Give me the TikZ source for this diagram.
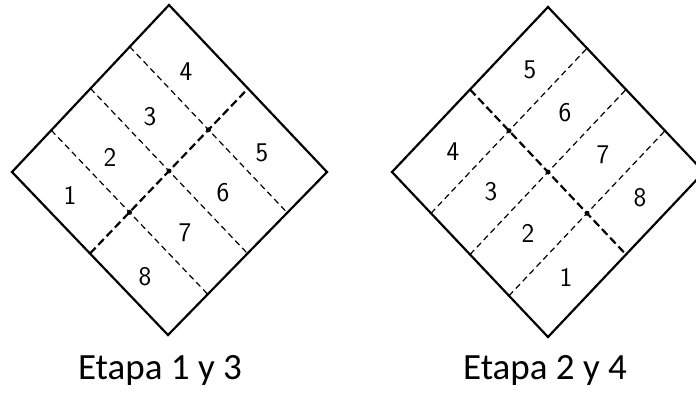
\documentclass[tikz,border=0pt]{standalone}
\usepackage{fontspec}
\newfontfamily\capfont{Carlito}
\usetikzlibrary{calc}
\begin{document}
\begin{tikzpicture}[x=1pt,y=-1pt,
  outline/.style={line width=2.2pt, line join=miter},
  thindash/.style={line width=1.2pt, dash pattern=on 6pt off 4pt},
  thickdash/.style={line width=2.2pt, dash pattern=on 8pt off 4pt},
  num/.style={font=\sffamily\fontsize{27}{27}\selectfont, inner sep=0pt},
  caption/.style={font=\capfont\fontsize{37}{40}\selectfont, anchor=base, inner sep=0pt},
  xdot/.style={circle, fill, inner sep=0pt, minimum size=5pt}]
\useasboundingbox (0,0) rectangle (696,392);
\clip (0,0) rectangle (696,392);
% ---------- left diamond ----------
\coordinate (aL) at (12,172);
\coordinate (aT) at (169,5);
\coordinate (aR) at (327,172);
\coordinate (aB) at (168,335);
\foreach \f/\k in {0.25/1,0.5/2,0.75/3}{
  \coordinate (aP\k) at ($(aL)!\f!(aT)$);
  \coordinate (aQ\k) at ($(aB)!\f!(aR)$);
  \draw[thindash] (aP\k) -- (aQ\k);
}
\coordinate (aM1) at ($(aL)!0.5!(aB)$);
\coordinate (aM2) at ($(aT)!0.5!(aR)$);
\draw[thickdash] (aM1) -- (aM2);
\foreach \k in {1,2,3}{
  \node[xdot] (aX\k) at ($(aP\k)!0.5!(aQ\k)$) {};
}
\draw[outline] (aL) -- (aT) -- (aR) -- (aB) -- cycle;
\node[num] (a1) at (70,195) {1};
\node[num] (a2) at (110,157) {2};
\node[num] (a3) at (150,117) {3};
\node[num] (a4) at (186,72) {4};
\node[num] (a5) at (262,153) {5};
\node[num] (a6) at (223,193) {6};
\node[num] (a7) at (185,233) {7};
\node[num] (a8) at (145,277) {8};
\node[caption] (capa) at (160,379) {Etapa 1 y 3};
% ---------- right diamond ----------
\coordinate (bL) at (392,172);
\coordinate (bT) at (548,7);
\coordinate (bR) at (704,172);
\coordinate (bB) at (548,337);
\foreach \f/\k in {0.25/1,0.5/2,0.75/3}{
  \coordinate (bP\k) at ($(bL)!\f!(bB)$);
  \coordinate (bQ\k) at ($(bT)!\f!(bR)$);
  \draw[thindash] (bP\k) -- (bQ\k);
}
\coordinate (bM1) at ($(bL)!0.5!(bT)$);
\coordinate (bM2) at ($(bB)!0.5!(bR)$);
\draw[thickdash] (bM1) -- (bM2);
\foreach \k in {1,2,3}{
  \node[xdot] (bX\k) at ($(bP\k)!0.5!(bQ\k)$) {};
}
\draw[outline] (bL) -- (bT) -- (bR) -- (bB) -- cycle;
\node[num] (b1) at (566,277) {1};
\node[num] (b2) at (528,233) {2};
\node[num] (b3) at (491,192) {3};
\node[num] (b4) at (453,152) {4};
\node[num] (b5) at (530,70) {5};
\node[num] (b6) at (565,113) {6};
\node[num] (b7) at (603,155) {7};
\node[num] (b8) at (640,198) {8};
\node[caption] (capb) at (545,379) {Etapa 2 y 4};
\end{tikzpicture}
\end{document}
